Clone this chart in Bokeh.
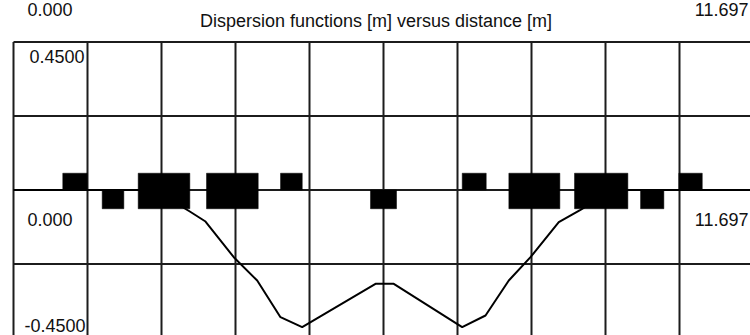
from bokeh.plotting import figure
from bokeh.models import Range1d, Label, ColumnDataSource
from bokeh.embed import file_html
from bokeh.resources import INLINE

# ---------------- data ----------------
title_text = "Dispersion functions [m] versus distance [m]"
s_start_label = "0.000"
s_end_label = "11.697"
y_max_label = "0.4500"
y_min_label = "-0.4500"

s_total = 11.697
y_ticks = [-0.45, -0.225, 0.0, 0.225, 0.45]

# lattice elements (start, end in m) and kind: QF = focusing (up), QD = defocusing (down), SB = bend
elem_start = [0.779, 1.402, 1.971, 3.051, 4.221, 5.643, 7.093, 7.830, 8.868, 9.912, 10.517]
elem_end = [1.165, 1.744, 2.787, 3.868, 4.564, 6.054, 7.472, 8.636, 9.711, 10.280, 10.887]
elem_kind = ["QF", "QD", "SB", "SB", "QF", "QD", "QF", "SB", "SB", "QD", "QF"]

# dispersion function
disp_s = [0.0, 1.971, 2.400, 2.787, 3.035, 3.482, 3.852, 4.220, 4.563, 5.722,
          6.011, 7.092, 7.461, 7.829, 8.172, 8.619, 8.962, 9.300, 9.711, 11.697]
disp_d = [0.0, 0.0, -0.020, -0.0654, -0.0958, -0.2043, -0.2752, -0.3868, -0.4172, -0.2852,
          -0.2852, -0.4172, -0.3816, -0.2752, -0.2043, -0.0979, -0.0602, -0.020, 0.0, 0.0]

# ---------------- layout / style ----------------
W, H = 750, 335
LEFT_PX = 13.0
X_PX = 740.0 / s_total          # px per metre along s
Y0_PX = 189.5                    # pixel row of y = 0
Y_PX = 148.0 / 0.45              # px per metre in y
BOX_UP = 0.051
BOX_DOWN = 0.057
FONT = "Liberation Sans"
FS = "18px"
INK = "#111111"
GRID_COLOR = "#1c1c1c"
TEXT_SHIFT = 6                   # rendered baseline sits this many px below requested


def sx(px):
    return (px - LEFT_PX) / X_PX


def sy(py):
    return (Y0_PX - py) / Y_PX


p = figure(width=W, height=H,
           x_range=Range1d(sx(0), sx(W)), y_range=Range1d(sy(H), sy(0)),
           output_backend="svg", toolbar_location=None,
           x_axis_location=None, y_axis_location=None,
           min_border=0, min_border_left=0, min_border_right=0,
           min_border_top=0, min_border_bottom=0)
p.grid.visible = False
p.outline_line_color = None
p.background_fill_color = "white"
p.border_fill_color = "white"

# grid (frame lines included)
n_div = 10
gx = [s_total * k / n_div for k in range(n_div + 1)]
p.segment(x0=gx, y0=[y_ticks[0]] * len(gx), x1=gx, y1=[y_ticks[-1]] * len(gx),
          line_color=GRID_COLOR, line_width=2)
p.segment(x0=[0.0] * len(y_ticks), y0=y_ticks, x1=[s_total] * len(y_ticks), y1=y_ticks,
          line_color=GRID_COLOR, line_width=2)

# dispersion curve
p.line(disp_s, disp_d, line_color="black", line_width=2)

# lattice elements
tops = [BOX_UP if k in ("QF", "SB") else 0.0 for k in elem_kind]
bots = [-BOX_DOWN if k in ("QD", "SB") else 0.0 for k in elem_kind]
src = ColumnDataSource(dict(left=elem_start, right=elem_end, top=tops, bottom=bots))
p.quad(left="left", right="right", top="top", bottom="bottom", source=src,
       fill_color="black", line_color="black", line_width=0.5)


def lab(text, px, py, align="left", size=FS):
    p.add_layout(Label(x=sx(px), y=sy(py - TEXT_SHIFT), text=text, text_font=FONT,
                       text_font_size=size, text_color=INK,
                       text_align=align, text_baseline="alphabetic"))


# title
lab(title_text, 375.5, 26, align="center")
# labels of the panel above (kept fully visible)
lab(s_start_label, 27, 15)
lab(s_end_label, 748, 15, align="right")
# y labels
lab(y_max_label, 84, 62, align="right")
lab(y_min_label, 85, 331, align="right")
# s labels
lab(s_start_label, 27, 225)
lab(s_end_label, 748, 225, align="right")

open("out.html", "w").write(file_html(p, INLINE))
